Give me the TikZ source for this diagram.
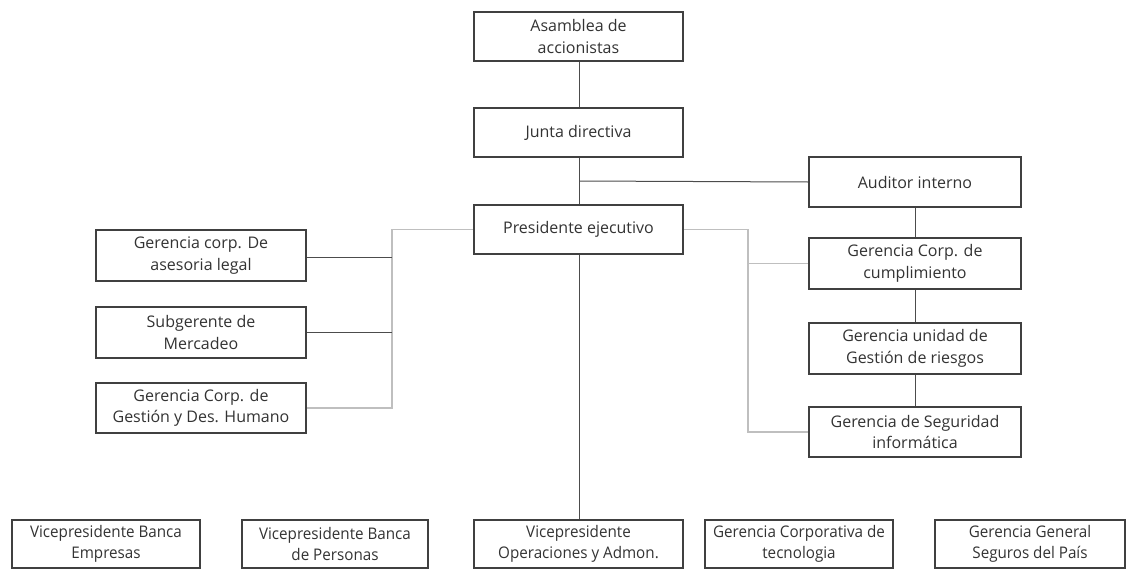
\documentclass[tikz,border=0pt]{standalone}
\usepackage{fontspec}
\setmainfont{Open Sans}
\newfontfamily\narrowfont[FakeStretch=0.95]{Open Sans}
\begin{document}
\begin{tikzpicture}[x=1pt,y=-1pt,
  box/.style={draw=black!75,line width=1.8pt,fill=white,align=center,font=\fontsize{16}{21.5}\selectfont,text=black!80,inner sep=0pt},
  narrow/.style={font=\narrowfont\fontsize{16}{21.5}\selectfont},
  dark/.style={draw=black!70,line width=1pt},
  light/.style={draw=black!25,line width=1.8pt}]
\useasboundingbox (0,0) rectangle (1138,570);
\newcommand{\bx}[7][]{\node[box,#1,minimum width=#5-#3,minimum height=#6-#4] (#2) at ({(#3+#5)/2},{(#4+#6)/2}) {#7};}
\coordinate (ja) at (579,181);
\coordinate (lx) at (392,230);
\coordinate (rx) at (748,230);
\draw[dark] (579,61) -- (579,108);
\draw[dark] (579,157) -- (579,205);
\draw[dark] (579,254) -- (579,520);
\bx{asam}{474}{12}{683}{61}{Asamblea de\\accionistas}
\bx{junta}{474}{108}{683}{157}{Junta directiva}
\bx{pres}{474}{205}{683}{254}{Presidente ejecutivo}
\bx{aud}{809}{157}{1021}{207}{Auditor interno}
\bx{cump}{809}{238}{1021}{289}{Gerencia Corp. de\\cumplimiento}
\bx{ries}{809}{323}{1021}{374}{Gerencia unidad de\\Gestión de riesgos}
\bx{seg}{809}{407}{1021}{457}{Gerencia de Seguridad\\informática}
\bx{legal}{96}{230}{306}{281}{Gerencia corp. De\\asesoria legal}
\bx{merc}{96}{307}{306}{358}{Subgerente de\\Mercadeo}
\bx{hum}{96}{383}{306}{433}{Gerencia Corp. de\\Gestión y Des. Humano}
\bx[narrow]{vbe}{12}{520}{200}{568}{Vicepresidente Banca\\Empresas}
\bx[narrow]{vbp}{242}{520}{428}{568}{Vicepresidente Banca\\de Personas}
\bx[narrow]{vop}{474}{520}{683}{568}{Vicepresidente\\Operaciones y Admon.}
\bx[narrow]{gct}{705}{520}{893}{568}{Gerencia Corporativa de\\tecnologia}
\bx[narrow]{ggs}{935}{520}{1125}{568}{Gerencia General\\Seguros del País}
\draw[dark] (ja) -- (aud.west);
\draw[dark] (aud) -- (cump);
\draw[dark] (cump) -- (ries);
\draw[dark] (ries) -- (seg);
\draw[light] (pres.west) -- (pres.west -| lx) |- (hum.east);
\draw[light] (pres.east) -- (pres.east -| rx) |- (seg.west);
\draw[light] (cump.west -| rx) -- (cump.west);
\draw[dark] ([yshift=-2pt]legal.east) -- ([yshift=-2pt]legal.east -| lx);
\draw[dark] (merc.east) -- (merc.east -| lx);
\end{tikzpicture}
\end{document}
